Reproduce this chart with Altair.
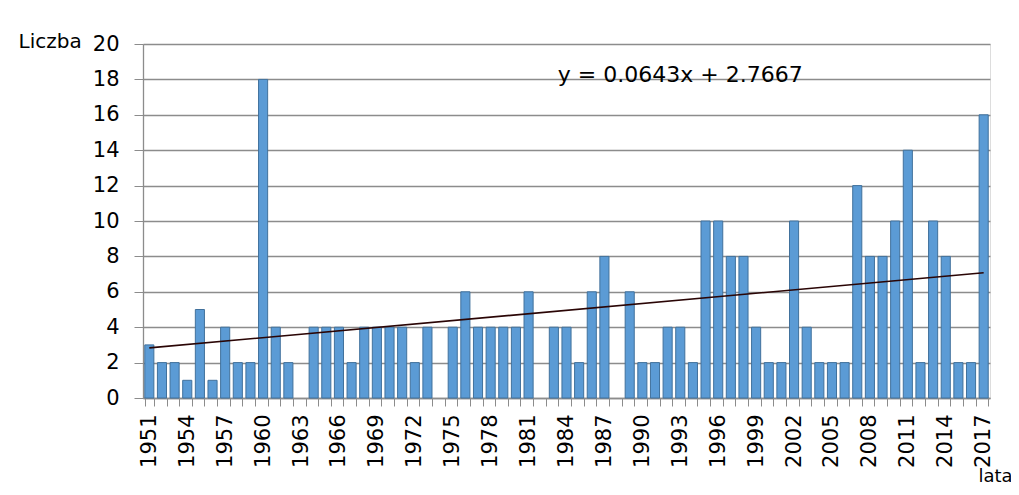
import altair as alt
import pandas as pd

years = list(range(1951, 2018))
values = [3, 2, 2, 1, 5, 1, 4, 2, 2, 18, 4, 2, None, 4, 4, 4, 2, 4, 4, 4,
          4, 2, 4, None, 4, 6, 4, 4, 4, 4, 6, None, 4, 4, 2, 6, 8, None, 6, 2,
          2, 4, 4, 2, 10, 10, 8, 8, 4, 2, 2, 10, 4, 2, 2, 2, 12, 8, 8, 10,
          14, 2, 10, 8, 2, 2, 16]
y_ticks = list(range(0, 21, 2))
equation = "y = 0.0643x + 2.7667"

df = pd.DataFrame({"year": years, "idx": list(range(1, len(years) + 1)), "value": values})

FONT = "DejaVu Sans"
GRID = "#8c8c8c"

x_enc = alt.X(
    "year:O",
    scale=alt.Scale(domain=years, paddingInner=0.28, paddingOuter=0.14),
    axis=alt.Axis(
        title="lata", titleAngle=0, titleAlign="left", titleBaseline="alphabetic",
        titleX=835, titleY=83, titleFontSize=18, titleFontWeight="normal",
        titleFont=FONT, titleColor="black",
        labelAngle=-90, labelFont=FONT, labelFontSize=21, labelColor="black",
        labelExpr="(datum.value - 1951) % 3 == 0 ? datum.label : ''",
        labelPadding=8, labelOverlap=False,
        tickBand="extent", tickSize=8, tickColor=GRID, domainColor=GRID,
        domainWidth=1.3, tickWidth=1,
    ),
)

bars = alt.Chart(df).mark_bar(color="#5b9bd5", stroke="#41719c", strokeWidth=1).encode(
    x=x_enc,
    y=alt.Y(
        "value:Q",
        scale=alt.Scale(domain=[0, 20], nice=False),
        axis=alt.Axis(
            values=y_ticks, tickCount=len(y_ticks), title="Liczba", titleAngle=0,
            titleAlign="left", titleBaseline="alphabetic", titleX=-125, titleY=3,
            titleFontSize=20, titleFontWeight="normal", titleFont=FONT, titleColor="black",
            labelFont=FONT, labelFontSize=21, labelColor="black", labelPadding=15,
            labelOverlap=False, labelFlush=False, labelBound=False,
            grid=True, gridColor=GRID, gridWidth=1.3, tickColor=GRID, tickSize=9,
            domainColor=GRID, domainWidth=1.3,
        ),
    ),
)

trend = (
    alt.Chart(df)
    .transform_filter("isValid(datum.value)")
    .transform_regression("idx", "value", method="linear")
    .transform_calculate(year="datum.idx + 1950")
    .mark_line(color="#2a0505", strokeWidth=1.6)
    .encode(x=alt.X("year:O"), y=alt.Y("value:Q"))
)

eq = alt.Chart(df).mark_text(
    text=equation, font=FONT, fontSize=22, align="center", baseline="alphabetic", color="black"
).encode(
    x=alt.X(datum=1993, type="ordinal"),
    y=alt.Y(datum=17.87, type="quantitative"),
).transform_filter("datum.idx == 1")

chart = (
    alt.layer(bars, trend, eq)
    .properties(
        width=847, height=354,
        autosize=alt.AutoSizeParams(type="none"),
        padding={"left": 135, "top": 36, "right": 21, "bottom": 88},
    )
    .configure_view(fill="#e7e6e6", stroke=None)
    .configure(background="white")
)

chart.save("out.html", embed_options={"renderer": "svg", "actions": False})
